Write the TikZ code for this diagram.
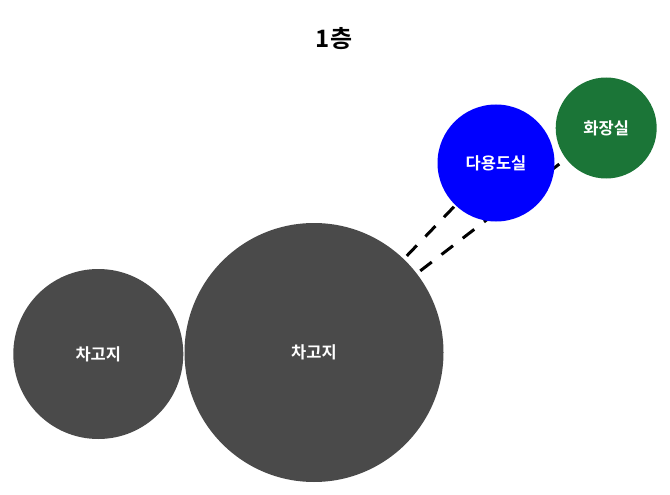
\documentclass[tikz,border=0pt]{standalone}
\usepackage{fontspec}
\setmainfont{Noto Sans CJK KR}[BoldFont={Noto Sans CJK KR Bold}]
\usetikzlibrary{backgrounds}
\definecolor{garage}{RGB}{74,74,74}
\definecolor{utility}{RGB}{0,0,255}
\definecolor{toilet}{RGB}{27,117,55}
\tikzset{
  room/.style={circle, inner sep=0pt, outer sep=0pt, text=white,
    font=\fontsize{16.5}{19}\selectfont\bfseries},
  link/.style={line width=3pt, black, dash pattern=on 14.5pt off 12.3pt}
}
\begin{document}
\begin{tikzpicture}[x=1pt,y=-1pt]
\useasboundingbox (0,0) rectangle (670,495);
\node[font=\fontsize{24}{28}\selectfont\bfseries] (title) at (334,39) {1층};
\node[room, fill=garage, minimum size=170pt] (g1) at (98.3,354) {차고지};
\node[room, fill=garage, minimum size=259pt] (g2) at (314,352.5) {차고지};
\node[room, fill=utility, minimum size=117pt] (ut) at (496,163) {다용도실};
\node[room, fill=toilet, minimum size=101pt] (wc) at (606.2,128) {화장실};
\begin{scope}[on background layer]
\draw[link] (g2.center) -- (ut.center);
\draw[link] (g2.center) -- (wc.center);
\end{scope}
\end{tikzpicture}
\end{document}
